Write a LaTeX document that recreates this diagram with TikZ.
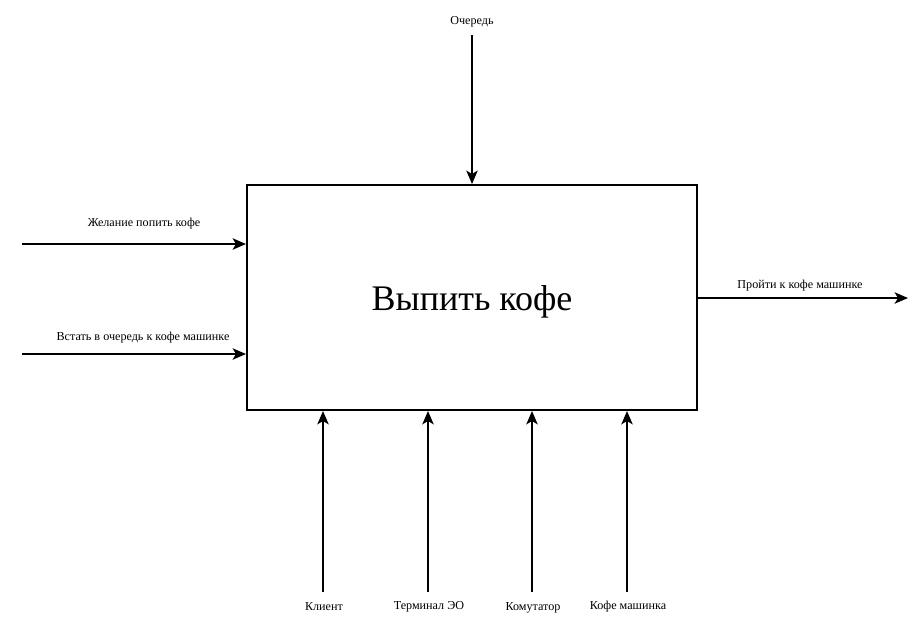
\documentclass[tikz,border=0pt]{standalone}
\usepackage{fontspec}
\setmainfont{Liberation Serif}
\usetikzlibrary{arrows.meta}
\begin{document}
\begin{tikzpicture}[x=0.75pt,y=-0.75pt,
  conn/.style={line width=1.5pt,-{Stealth[length=10pt,width=8.5pt,inset=2.5pt]}},
  lbl/.style={font=\fontsize{9.1pt}{11pt}\selectfont,inner sep=0pt},
  mainbox/.style={draw,line width=1.5pt,minimum width=337.5pt,minimum height=168.75pt,inner sep=0pt}]
\useasboundingbox (0,0) rectangle (923,619);
\node[mainbox] (box) at (472,297.5) {};
\node[font=\fontsize{27pt}{30pt}\selectfont,inner sep=0pt] (title) at (472,301.5) {Выпить кофе};
% control
\coordinate (qs) at (472,35);
\node[lbl] (q) at (472,21.5) {Очередь};
\draw[conn] (qs) -- (box.north -| qs);
% inputs
\coordinate (i1) at (22,244);
\coordinate (i2) at (22,354);
\node[lbl] (li1) at (144,223.5) {Желание попить кофе};
\node[lbl] (li2) at (143,337.5) {Встать в очередь к кофе машинке};
\draw[conn] (i1) -- (box.west |- i1);
\draw[conn] (i2) -- (box.west |- i2);
% output
\coordinate (o1) at (908,298);
\node[lbl] (lo1) at (800,285.5) {Пройти к кофе машинке};
\draw[conn] (box.east |- o1) -- (o1);
% mechanisms
\coordinate (m1) at (323,592);
\coordinate (m2) at (428,592);
\coordinate (m3) at (532,592);
\coordinate (m4) at (627,592);
\node[lbl] (lm1) at (324,606.5) {Клиент};
\node[lbl] (lm2) at (429,606.5) {Терминал ЭО};
\node[lbl] (lm3) at (533,607.5) {Комутатор};
\node[lbl] (lm4) at (628,606.5) {Кофе машинка};
\draw[conn] (m1) -- (box.south -| m1);
\draw[conn] (m2) -- (box.south -| m2);
\draw[conn] (m3) -- (box.south -| m3);
\draw[conn] (m4) -- (box.south -| m4);
\end{tikzpicture}
\end{document}
